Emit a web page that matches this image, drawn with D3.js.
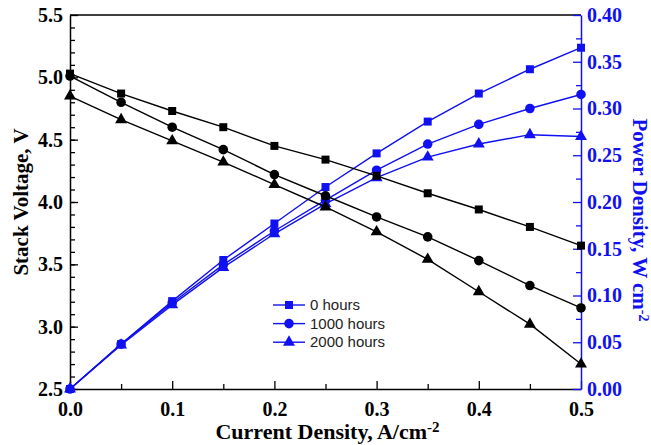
<!DOCTYPE html>
<html>
<head>
<meta charset="utf-8">
<script src="https://cdn.jsdelivr.net/npm/d3@7"></script>
<style>
body { margin: 0; background: #fff; }
</style>
</head>
<body>
<div id="chart"></div>
<script>
// current density, A/cm^2
const current = [0, 0.05, 0.1, 0.15, 0.2, 0.25, 0.3, 0.35, 0.4, 0.45, 0.5];
const labels = ["0 hours", "1000 hours", "2000 hours"];

// stack voltage, V (black, left axis)
const voltage0 = [5.03, 4.87, 4.73, 4.60, 4.45, 4.34, 4.21, 4.07, 3.94, 3.80, 3.65];
const voltage1000 = [5.01, 4.80, 4.60, 4.42, 4.22, 4.05, 3.88, 3.72, 3.53, 3.33, 3.15];
const voltage2000 = [4.85, 4.66, 4.49, 4.32, 4.14, 3.96, 3.76, 3.54, 3.28, 3.02, 2.70];

// power density, W/cm^2 (blue, right axis)
const power0 = [0, 0.048, 0.094, 0.138, 0.177, 0.216, 0.252, 0.286, 0.316, 0.342, 0.365];
const power1000 = [0, 0.048, 0.092, 0.133, 0.169, 0.202, 0.234, 0.262, 0.283, 0.300, 0.315];
const power2000 = [0, 0.047, 0.090, 0.130, 0.166, 0.198, 0.226, 0.248, 0.262, 0.272, 0.270];

const voltageTicks = [2.5, 3.0, 3.5, 4.0, 4.5, 5.0, 5.5];
const powerTicks = [0, 0.05, 0.1, 0.15, 0.2, 0.25, 0.3, 0.35, 0.4];
const currentTicks = [0, 0.1, 0.2, 0.3, 0.4, 0.5];

const width = 651;
const height = 445;
const margin = ({ top: 15, right: 70, bottom: 56, left: 70 });
const blue = "#1010f0";
const serif = "'Liberation Serif', 'Times New Roman', serif";

const x = d3.scaleLinear()
	.domain([0, 0.5])
	.range([margin.left, width - margin.right]);

const yV = d3.scaleLinear()
	.domain([2.5, 5.5])
	.range([height - margin.bottom, margin.top]);

const yP = d3.scaleLinear()
	.domain([0, 0.4])
	.range([height - margin.bottom, margin.top]);

const symbols = [d3.symbolSquare, d3.symbolCircle, d3.symbolTriangle];
const symbolSizes = [64, 72, 62];

const svg = d3.select("#chart")
	.append("svg")
	.attr("width", width)
	.attr("height", height)
	.attr("viewBox", [0, 0, width, height]);

function styleTicks(g, color) {
	g.selectAll("text")
		.attr("fill", color)
		.attr("font-family", serif)
		.attr("font-weight", "bold")
		.attr("font-size", "20px");
	g.selectAll("line").attr("stroke", color).attr("stroke-width", 1.3);
	g.select(".domain").attr("stroke", color).attr("stroke-width", 1.5);
}

// minor ticks
svg.append("g")
	.attr("transform", `translate(0,${height - margin.bottom})`)
	.call(d3.axisBottom(x).tickValues(d3.range(0.05, 0.5, 0.1)).tickSize(-5).tickFormat(""))
	.call(g => g.select(".domain").remove())
	.call(g => g.selectAll("line").attr("stroke", "#000").attr("stroke-width", 1.3));

svg.append("g")
	.attr("transform", `translate(${margin.left},0)`)
	.call(d3.axisLeft(yV).tickValues(d3.range(2.6, 5.5, 0.1)).tickSize(-5).tickFormat(""))
	.call(g => g.select(".domain").remove())
	.call(g => g.selectAll("line").attr("stroke", "#000").attr("stroke-width", 1.3));

svg.append("g")
	.attr("transform", `translate(${width - margin.right},0)`)
	.call(d3.axisRight(yP).tickValues(d3.range(0.025, 0.4, 0.05)).tickSize(-5).tickFormat(""))
	.call(g => g.select(".domain").remove())
	.call(g => g.selectAll("line").attr("stroke", blue).attr("stroke-width", 1.3));

// top frame line
svg.append("line")
	.attr("x1", margin.left)
	.attr("x2", width - margin.right)
	.attr("y1", margin.top)
	.attr("y2", margin.top)
	.attr("stroke", "#000")
	.attr("stroke-width", 1.5);

// main axes
svg.append("g")
	.attr("transform", `translate(0,${height - margin.bottom})`)
	.call(d3.axisBottom(x).tickValues(currentTicks).tickSize(-8).tickSizeOuter(0)
		.tickPadding(13).tickFormat(d3.format(".1f")))
	.call(g => styleTicks(g, "#000"));

svg.append("g")
	.attr("transform", `translate(${margin.left},0)`)
	.call(d3.axisLeft(yV).tickValues(voltageTicks).tickSize(-8).tickSizeOuter(0)
		.tickPadding(7).tickFormat(d3.format(".1f")))
	.call(g => styleTicks(g, "#000"));

svg.append("g")
	.attr("transform", `translate(${width - margin.right},0)`)
	.call(d3.axisRight(yP).tickValues(powerTicks).tickSize(-8).tickSizeOuter(0)
		.tickPadding(6).tickFormat(d3.format(".2f")))
	.call(g => styleTicks(g, blue));

// axis titles
svg.append("text")
	.attr("x", (margin.left + width - margin.right) / 2 + 2)
	.attr("y", 439)
	.attr("text-anchor", "middle")
	.attr("font-family", serif)
	.attr("font-weight", "bold")
	.attr("font-size", "22px")
	.call(t => t.append("tspan").text("Current Density, A/cm"))
	.call(t => t.append("tspan").attr("dy", "-0.45em").attr("font-size", "15px").text("-2"));

svg.append("text")
	.attr("transform", "translate(28,202) rotate(-90)")
	.attr("text-anchor", "middle")
	.attr("font-family", serif)
	.attr("font-weight", "bold")
	.attr("font-size", "21px")
	.text("Stack Voltage, V");

svg.append("text")
	.attr("transform", "translate(633,220) rotate(90)")
	.attr("text-anchor", "middle")
	.attr("fill", blue)
	.attr("font-family", serif)
	.attr("font-weight", "bold")
	.attr("font-size", "21px")
	.call(t => t.append("tspan").text("Power Density, W cm"))
	.call(t => t.append("tspan").attr("dy", "-0.45em").attr("font-size", "14px").text("-2"));

// series
const voltages = [voltage0, voltage1000, voltage2000];
const powers = [power0, power1000, power2000];

function drawSeries(values, y, color, i) {
	const pts = values.map((v, j) => [current[j], v]);
	const line = d3.line()
		.x(d => x(d[0]))
		.y(d => y(d[1]));
	svg.append("path")
		.datum(pts)
		.attr("fill", "none")
		.attr("stroke", color)
		.attr("stroke-width", 1.4)
		.attr("d", line);
	svg.append("g")
		.selectAll("path")
		.data(pts)
		.join("path")
		.attr("transform", d => `translate(${x(d[0])},${y(d[1])})`)
		.attr("d", d3.symbol(symbols[i], symbolSizes[i]))
		.attr("fill", color);
}

powers.forEach((p, i) => drawSeries(p, yP, blue, i));
voltages.forEach((v, i) => drawSeries(v, yV, "#000", i));

// legend
const legend = svg.append("g")
	.selectAll("g")
	.data(labels)
	.join("g")
	.attr("transform", (d, i) => `translate(273,${305 + i * 18.6})`);

legend.append("line")
	.attr("x1", 0)
	.attr("x2", 32)
	.attr("stroke", blue)
	.attr("stroke-width", 1.4);

legend.append("path")
	.attr("transform", "translate(16,0)")
	.attr("d", (d, i) => d3.symbol(symbols[i], symbolSizes[i])())
	.attr("fill", blue);

legend.append("text")
	.attr("x", 37)
	.attr("dy", "0.35em")
	.attr("font-family", "'Liberation Sans', Arial, sans-serif")
	.attr("font-size", "15px")
	.attr("fill", "#222")
	.text(d => d);
</script>
</body>
</html>
